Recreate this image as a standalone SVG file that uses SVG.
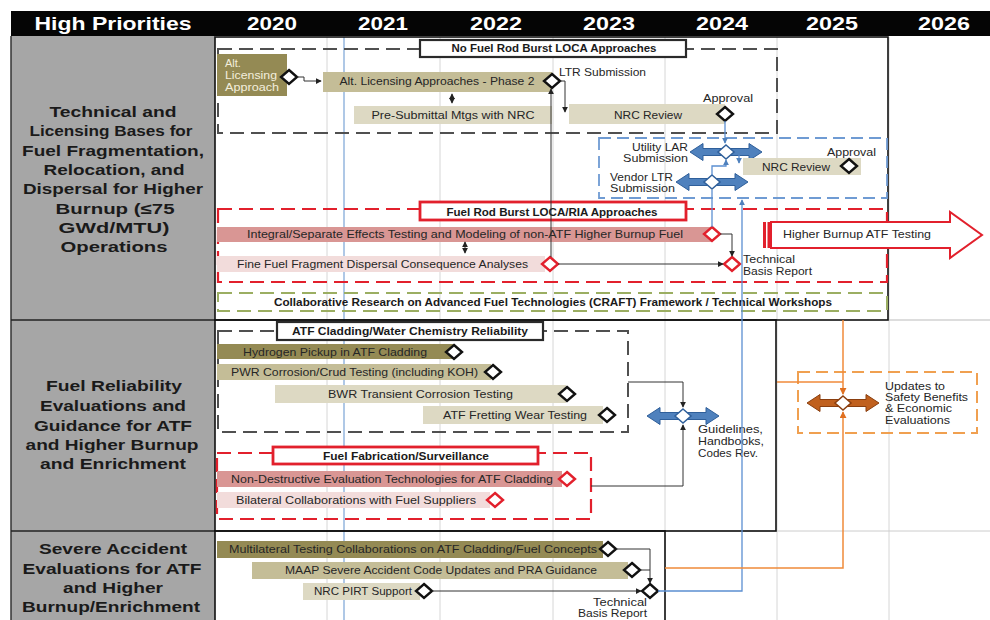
<svg xmlns="http://www.w3.org/2000/svg" width="990" height="620" viewBox="0 0 990 620">
<style>
.hdr{font-family:"Liberation Sans",Arial,sans-serif;font-weight:bold;font-size:19px;fill:#fff;text-anchor:middle}
.lbl{font-family:"Liberation Sans",Arial,sans-serif;font-weight:bold;font-size:15px;fill:#1a1a1a;text-anchor:middle}
.t{font-family:"Liberation Sans",Arial,sans-serif;font-size:11px;fill:#262626}
.tb{font-family:"Liberation Sans",Arial,sans-serif;font-weight:bold;font-size:11px;fill:#1a1a1a}
.c{text-anchor:middle}
.e{text-anchor:end}
.lt{fill:#f3eedc}
.f1{fill:#948a54}
.f2{fill:#c4bd97}
.f3{fill:#ddd9c3}
.r1{fill:#d99694}
.r2{fill:#f2dcdb}
.dk{fill:#fff;stroke:#111;stroke-width:2.4}
.dr{fill:#fff;stroke:#e2202c;stroke-width:2.4}
.db{fill:#fff;stroke:#2f5f9a;stroke-width:1.5}
.do{fill:#fff;stroke:#8a3e0e;stroke-width:1.5}
.ba{fill:#4f81bd;stroke:#2f5f9a;stroke-width:1}
.bo{fill:#c0601e;stroke:#8a3e0e;stroke-width:1}
.dg{fill:none;stroke:#505050;stroke-width:2;stroke-dasharray:14 7}
.dred{fill:none;stroke:#e2202c;stroke-width:2.2;stroke-dasharray:14 7}
.dblue{fill:none;stroke:#6f9bd3;stroke-width:1.8;stroke-dasharray:12 6}
.dgreen{fill:none;stroke:#9bae62;stroke-width:2;stroke-dasharray:14 7}
.dor{fill:none;stroke:#f0a050;stroke-width:2;stroke-dasharray:12 6}
.tk{fill:#fff;stroke:#2a2a2a;stroke-width:2.2}
.tr{fill:#fff;stroke:#e2202c;stroke-width:2.8}
.ck{fill:none;stroke:#333;stroke-width:1}
.cb{fill:none;stroke:#5b8fd1;stroke-width:1.3}
.co{fill:none;stroke:#f08a3a;stroke-width:1.5}
.grid{stroke:#d6d6d6;stroke-width:1}
.frame{fill:none;stroke:#111;stroke-width:1.6}
</style>
<defs>
<path id="dia" d="M0,-7 L8,0 L0,7 L-8,0 Z"/>
<path id="barr" d="M-36,0 L-23,-8.5 L-23,-3.5 L23,-3.5 L23,-8.5 L36,0 L23,8.5 L23,3.5 L-23,3.5 L-23,8.5 Z"/>
<marker id="ak" viewBox="0 0 8 8" refX="7" refY="4" markerWidth="6" markerHeight="6" markerUnits="userSpaceOnUse" orient="auto-start-reverse"><path d="M0,0 L8,4 L0,8 Z" fill="#222"/></marker>
<marker id="ab" viewBox="0 0 8 8" refX="7" refY="4" markerWidth="6" markerHeight="6" markerUnits="userSpaceOnUse" orient="auto"><path d="M0,0 L8,4 L0,8 Z" fill="#4f81bd"/></marker>
<marker id="ao" viewBox="0 0 8 8" refX="7" refY="4" markerWidth="7" markerHeight="7" markerUnits="userSpaceOnUse" orient="auto"><path d="M0,0 L8,4 L0,8 Z" fill="#e07020"/></marker>
</defs>

<rect x="0" y="0" width="990" height="620" fill="#fff"/>

<g id="header">
<rect x="11" y="11" width="979" height="25" fill="#050505"/>
<text class="hdr" x="113" y="30" textLength="157" lengthAdjust="spacingAndGlyphs">High Priorities</text>
<text class="hdr" x="272" y="30" textLength="50" lengthAdjust="spacingAndGlyphs">2020</text>
<text class="hdr" x="383" y="30" textLength="50" lengthAdjust="spacingAndGlyphs">2021</text>
<text class="hdr" x="496" y="30" textLength="52" lengthAdjust="spacingAndGlyphs">2022</text>
<text class="hdr" x="609" y="30" textLength="52" lengthAdjust="spacingAndGlyphs">2023</text>
<text class="hdr" x="722" y="30" textLength="52" lengthAdjust="spacingAndGlyphs">2024</text>
<text class="hdr" x="832" y="30" textLength="52" lengthAdjust="spacingAndGlyphs">2025</text>
<text class="hdr" x="944" y="30" textLength="52" lengthAdjust="spacingAndGlyphs">2026</text>
</g>

<g id="grid">
<line class="grid" x1="327" y1="37" x2="327" y2="620"/>
<line class="grid" x1="440" y1="37" x2="440" y2="620"/>
<line class="grid" x1="553" y1="37" x2="553" y2="620"/>
<line class="grid" x1="665" y1="37" x2="665" y2="620"/>
<line class="grid" x1="777" y1="37" x2="777" y2="620"/>
<line class="grid" x1="889" y1="37" x2="889" y2="620"/>
<line x1="888" y1="320" x2="990" y2="320" stroke="#bbb" stroke-width="1"/>
<line x1="665" y1="531" x2="990" y2="531" stroke="#ccc" stroke-width="1"/>
<line x1="344" y1="37" x2="344" y2="620" stroke="#7aa3d6" stroke-width="1.2"/>
</g>

<g id="row-labels">
<rect x="11" y="36" width="204" height="584" fill="#a6a6a6"/>
<line x1="11" y1="36" x2="11" y2="620" stroke="#333" stroke-width="1.5"/>
<line x1="11" y1="320" x2="215" y2="320" stroke="#222" stroke-width="1.5"/>
<line x1="11" y1="531" x2="215" y2="531" stroke="#222" stroke-width="1.5"/>
<g id="label-1">
<text class="lbl" x="113" y="117" textLength="127" lengthAdjust="spacingAndGlyphs">Technical and</text>
<text class="lbl" x="111" y="136" textLength="163" lengthAdjust="spacingAndGlyphs">Licensing Bases for</text>
<text class="lbl" x="113" y="156" textLength="182" lengthAdjust="spacingAndGlyphs">Fuel Fragmentation,</text>
<text class="lbl" x="114" y="175" textLength="141" lengthAdjust="spacingAndGlyphs">Relocation, and</text>
<text class="lbl" x="113" y="194" textLength="180" lengthAdjust="spacingAndGlyphs">Dispersal for Higher</text>
<text class="lbl" x="115" y="214" textLength="119" lengthAdjust="spacingAndGlyphs">Burnup (≤75</text>
<text class="lbl" x="114" y="233" textLength="111" lengthAdjust="spacingAndGlyphs">GWd/MTU)</text>
<text class="lbl" x="114" y="252" textLength="107" lengthAdjust="spacingAndGlyphs">Operations</text>
</g>
<g id="label-2">
<text class="lbl" x="114" y="391" textLength="136" lengthAdjust="spacingAndGlyphs">Fuel Reliability</text>
<text class="lbl" x="113" y="411" textLength="146" lengthAdjust="spacingAndGlyphs">Evaluations and</text>
<text class="lbl" x="113" y="431" textLength="158" lengthAdjust="spacingAndGlyphs">Guidance for ATF</text>
<text class="lbl" x="112" y="450" textLength="173" lengthAdjust="spacingAndGlyphs">and Higher Burnup</text>
<text class="lbl" x="113" y="469" textLength="146" lengthAdjust="spacingAndGlyphs">and Enrichment</text>
</g>
<g id="label-3">
<text class="lbl" x="113" y="554" textLength="148" lengthAdjust="spacingAndGlyphs">Severe Accident</text>
<text class="lbl" x="112" y="574" textLength="179" lengthAdjust="spacingAndGlyphs">Evaluations for ATF</text>
<text class="lbl" x="113" y="593" textLength="100" lengthAdjust="spacingAndGlyphs">and Higher</text>
<text class="lbl" x="111" y="612" textLength="178" lengthAdjust="spacingAndGlyphs">Burnup/Enrichment</text>
</g>
</g>

<g id="frames">
<rect class="frame" x="215" y="37" width="673" height="283"/>
<rect class="frame" x="215" y="320" width="561" height="211"/>
<rect class="frame" x="215" y="531" width="450" height="95"/>
</g>

<g id="group-no-burst">
<rect class="dg" x="218" y="49" width="559" height="84"/>
<rect class="tk" x="420" y="40" width="266" height="17"/>
<text class="tb c" x="554" y="52" textLength="205" lengthAdjust="spacingAndGlyphs">No Fuel Rod Burst LOCA Approaches</text>
</g>
<g id="alt-licensing">
<rect class="f1" x="217" y="54" width="70" height="42"/>
<text class="t lt" x="225" y="67">Alt.</text>
<text class="t lt" x="225" y="79" textLength="52" lengthAdjust="spacingAndGlyphs">Licensing</text>
<text class="t lt" x="225" y="91" textLength="54" lengthAdjust="spacingAndGlyphs">Approach</text>
<use href="#dia" class="dk" x="289" y="77"/>
</g>
<g id="phase2">
<rect class="f2" x="323" y="72" width="229" height="20"/>
<text class="t c" x="437" y="85" textLength="195" lengthAdjust="spacingAndGlyphs">Alt. Licensing Approaches - Phase 2</text>
<use href="#dia" class="dk" x="552" y="81"/>
<text class="t" x="559" y="76" textLength="87" lengthAdjust="spacingAndGlyphs">LTR Submission</text>
</g>
<g id="presubmittal">
<rect class="f3" x="354" y="106" width="198" height="18"/>
<text class="t c" x="453" y="119" textLength="163" lengthAdjust="spacingAndGlyphs">Pre-Submittal Mtgs with NRC</text>
</g>
<g id="nrc-review-1">
<rect class="f3" x="569" y="104" width="156" height="20"/>
<text class="t c" x="648" y="119" textLength="68" lengthAdjust="spacingAndGlyphs">NRC Review</text>
<use href="#dia" class="dk" x="725" y="114"/>
<text class="t" x="703" y="102" textLength="50" lengthAdjust="spacingAndGlyphs">Approval</text>
</g>

<g id="group-blue">
<rect class="dblue" x="599" y="138" width="288" height="60"/>
</g>
<g id="utility-lar">
<use href="#barr" class="ba" x="726" y="152"/>
<use href="#dia" class="db" x="726" y="152"/>
<text class="t e" x="688" y="151" textLength="56" lengthAdjust="spacingAndGlyphs">Utility LAR</text>
<text class="t e" x="688" y="162" textLength="65" lengthAdjust="spacingAndGlyphs">Submission</text>
</g>
<g id="nrc-review-2">
<rect class="f3" x="743" y="158" width="118" height="17"/>
<text class="t c" x="796" y="171" textLength="68" lengthAdjust="spacingAndGlyphs">NRC Review</text>
<use href="#dia" class="dk" x="849" y="166"/>
<text class="t" x="827" y="156" textLength="49" lengthAdjust="spacingAndGlyphs">Approval</text>
</g>
<g id="vendor-ltr">
<use href="#barr" class="ba" x="712" y="182"/>
<use href="#dia" class="db" x="712" y="182"/>
<text class="t" x="610" y="181" textLength="63" lengthAdjust="spacingAndGlyphs">Vendor LTR</text>
<text class="t" x="610" y="192" textLength="65" lengthAdjust="spacingAndGlyphs">Submission</text>
</g>

<g id="group-burst">
<rect class="dred" x="218" y="209" width="669" height="73"/>
<rect class="tr" x="420" y="202" width="266" height="18"/>
<text class="tb c" x="552" y="216" textLength="211" lengthAdjust="spacingAndGlyphs">Fuel Rod Burst LOCA/RIA Approaches</text>
</g>
<g id="integral">
<rect class="r1" x="217" y="227" width="495" height="15"/>
<text class="t" x="247" y="238" textLength="436" lengthAdjust="spacingAndGlyphs">Integral/Separate Effects Testing and Modeling of non-ATF Higher Burnup Fuel</text>
<use href="#dia" class="dr" x="712" y="234"/>
</g>
<g id="fine-fuel">
<rect class="r2" x="217" y="256" width="328" height="16"/>
<text class="t" x="237" y="268" textLength="291" lengthAdjust="spacingAndGlyphs">Fine Fuel Fragment Dispersal Consequence Analyses</text>
<use href="#dia" class="dr" x="550" y="264"/>
</g>
<g id="tbr-1">
<use href="#dia" class="dr" x="732" y="264"/>
<text class="t" x="743" y="263" textLength="52" lengthAdjust="spacingAndGlyphs">Technical</text>
<text class="t" x="743" y="275" textLength="69" lengthAdjust="spacingAndGlyphs">Basis Report</text>
</g>
<g id="higher-burnup-atf">
<rect x="763" y="222" width="3" height="26" fill="#e2202c"/>
<rect x="767.5" y="222" width="3" height="26" fill="#e2202c"/>
<path d="M771,222 L950,222 L950,212 L982,235 L950,258 L950,248 L771,248 Z" fill="#fff" stroke="#e2202c" stroke-width="2"/>
<text class="t" x="783" y="238" textLength="148" lengthAdjust="spacingAndGlyphs">Higher Burnup ATF Testing</text>
</g>
<g id="craft">
<rect class="dgreen" x="218" y="293" width="669" height="18"/>
<text class="tb c" x="553" y="306" textLength="558" lengthAdjust="spacingAndGlyphs">Collaborative Research on Advanced Fuel Technologies (CRAFT) Framework / Technical Workshops</text>
</g>

<g id="group-atf-cladding">
<rect class="dg" x="218" y="331" width="410" height="101"/>
<rect class="tk" x="277" y="322" width="266" height="18"/>
<text class="tb c" x="410" y="335" textLength="236" lengthAdjust="spacingAndGlyphs">ATF Cladding/Water Chemistry Reliability</text>
</g>
<g id="hydrogen">
<rect class="f1" x="217" y="344" width="236" height="15"/>
<text class="t" x="243" y="356" textLength="184" lengthAdjust="spacingAndGlyphs">Hydrogen Pickup in ATF Cladding</text>
<use href="#dia" class="dk" x="454" y="352"/>
</g>
<g id="pwr">
<rect class="f2" x="217" y="364" width="274" height="16"/>
<text class="t" x="231" y="376" textLength="247" lengthAdjust="spacingAndGlyphs">PWR Corrosion/Crud Testing (including KOH)</text>
<use href="#dia" class="dk" x="493" y="372"/>
</g>
<g id="bwr">
<rect class="f3" x="275" y="385" width="291" height="18"/>
<text class="t" x="328" y="398" textLength="185" lengthAdjust="spacingAndGlyphs">BWR Transient Corrosion Testing</text>
<use href="#dia" class="dk" x="567" y="394"/>
</g>
<g id="fretting">
<rect class="f3" x="423" y="406" width="180" height="18"/>
<text class="t" x="443" y="419" textLength="144" lengthAdjust="spacingAndGlyphs">ATF Fretting Wear Testing</text>
<use href="#dia" class="dk" x="607" y="415"/>
</g>
<g id="guidelines">
<use href="#barr" class="ba" x="683" y="416"/>
<use href="#dia" class="db" x="683" y="416"/>
<text class="t" x="698" y="433" textLength="65" lengthAdjust="spacingAndGlyphs">Guidelines,</text>
<text class="t" x="698" y="445" textLength="66" lengthAdjust="spacingAndGlyphs">Handbooks,</text>
<text class="t" x="698" y="457" textLength="60" lengthAdjust="spacingAndGlyphs">Codes Rev.</text>
</g>
<g id="group-fabrication">
<rect class="dred" x="217" y="453" width="374" height="66"/>
<rect class="tr" x="273" y="447" width="265" height="17"/>
<text class="tb c" x="406" y="460" textLength="166" lengthAdjust="spacingAndGlyphs">Fuel Fabrication/Surveillance</text>
</g>
<g id="nde">
<rect class="r1" x="217" y="471" width="345" height="16"/>
<text class="t" x="231" y="483" textLength="322" lengthAdjust="spacingAndGlyphs">Non-Destructive Evaluation Technologies for ATF Cladding</text>
<use href="#dia" class="dr" x="567" y="479"/>
</g>
<g id="bilateral">
<rect class="r2" x="217" y="492" width="273" height="16"/>
<text class="t" x="236" y="504" textLength="240" lengthAdjust="spacingAndGlyphs">Bilateral Collaborations with Fuel Suppliers</text>
<use href="#dia" class="dr" x="495" y="500"/>
</g>
<g id="updates">
<rect class="dor" x="798" y="372" width="179" height="61"/>
<use href="#barr" class="bo" x="843" y="403"/>
<use href="#dia" class="do" x="843" y="403"/>
<text class="t" x="885" y="390" textLength="60" lengthAdjust="spacingAndGlyphs">Updates to</text>
<text class="t" x="885" y="401" textLength="83" lengthAdjust="spacingAndGlyphs">Safety Benefits</text>
<text class="t" x="885" y="412" textLength="67" lengthAdjust="spacingAndGlyphs">&amp; Economic</text>
<text class="t" x="885" y="424" textLength="65" lengthAdjust="spacingAndGlyphs">Evaluations</text>
</g>

<g id="multilateral">
<rect class="f1" x="217" y="541" width="386" height="17"/>
<text class="t" x="229" y="553" textLength="368" lengthAdjust="spacingAndGlyphs">Multilateral Testing Collaborations on ATF Cladding/Fuel Concepts</text>
<use href="#dia" class="dk" x="608" y="549"/>
</g>
<g id="maap">
<rect class="f2" x="252" y="562" width="376" height="17"/>
<text class="t" x="285" y="574" textLength="312" lengthAdjust="spacingAndGlyphs">MAAP Severe Accident Code Updates and PRA Guidance</text>
<use href="#dia" class="dk" x="632" y="570"/>
</g>
<g id="pirt">
<rect class="f3" x="303" y="583" width="117" height="17"/>
<text class="t" x="314" y="595" textLength="98" lengthAdjust="spacingAndGlyphs">NRC PIRT Support</text>
<use href="#dia" class="dk" x="424" y="591"/>
</g>
<g id="tbr-3">
<use href="#dia" class="dk" x="650" y="591"/>
<text class="t e" x="647" y="606" textLength="54" lengthAdjust="spacingAndGlyphs">Technical</text>
<text class="t e" x="647" y="617" textLength="69" lengthAdjust="spacingAndGlyphs">Basis Report</text>
</g>

<g id="connectors">
<path class="ck" d="M297,77 H304 V81 H321" marker-end="url(#ak)"/>
<path class="ck" d="M560,81 H565 V112" marker-end="url(#ak)"/>
<path class="ck" d="M551,257 V89" marker-end="url(#ak)"/>
<path class="ck" d="M452,94 V103" marker-start="url(#ak)" marker-end="url(#ak)"/>
<path class="ck" d="M465,242 V253" marker-start="url(#ak)" marker-end="url(#ak)"/>
<path class="ck" d="M720,234 H732 V256" marker-end="url(#ak)"/>
<path class="ck" d="M558,264 H723" marker-end="url(#ak)"/>
<path class="ck" d="M628,382 H683 V407" marker-end="url(#ak)"/>
<path class="ck" d="M591,486 H683 V425" marker-end="url(#ak)"/>
<path class="ck" d="M616,549 H650 V583" marker-end="url(#ak)"/>
<path class="ck" d="M640,570 H650"/>
<path class="ck" d="M432,591 H641" marker-end="url(#ak)"/>
<path class="cb" d="M725,121 V143" marker-end="url(#ab)"/>
<path class="cb" d="M712,175 V166 H726 V160" marker-end="url(#ab)"/>
<path class="cb" d="M739,155 V163" marker-end="url(#ab)"/>
<path class="cb" d="M712,190 V227"/>
<path class="cb" d="M658,591 H742 V200" marker-end="url(#ab)"/>
<path class="co" d="M843,320 V394" marker-end="url(#ao)"/>
<path class="co" d="M777,382 H843"/>
<path class="co" d="M665,568 H843 V412" marker-end="url(#ao)"/>
</g>
</svg>
